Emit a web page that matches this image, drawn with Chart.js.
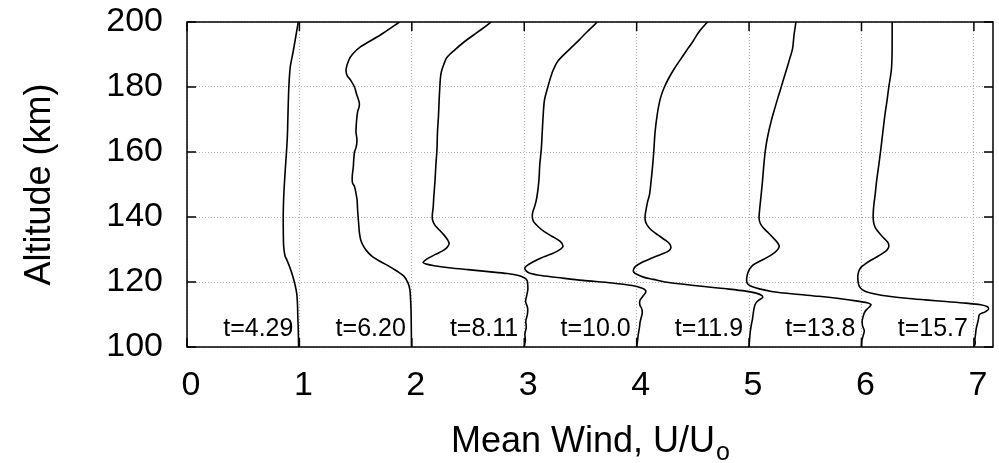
<!DOCTYPE html>
<html>
<head>
<meta charset="utf-8">
<script src="https://cdn.jsdelivr.net/npm/chart.js@4"></script>
<style>
  html, body { margin: 0; padding: 0; background: #fff; }
  #wrap { width: 999px; height: 463px; position: relative; }
</style>
</head>
<body>
<div id="wrap"><canvas id="wind-chart"></canvas></div>
<script>
// axis ticks
const windTicks = [0, 1, 2, 3, 4, 5, 6, 7];
const altTicks = [100, 120, 140, 160, 180, 200];

// profile labels, placed just left of each integer wind line
const timeLabels = ["t=4.29", "t=6.20", "t=8.11", "t=10.0", "t=11.9", "t=13.8", "t=15.7"];
const labelWind = [1, 2, 3, 4, 5, 6, 7];
const labelAlt = 103.4;

// t=4.29
const alt429 = [200, 195, 191, 186, 180, 175, 170, 165, 160, 155, 150, 145, 140, 135, 131, 128, 126.9, 124.5, 121.8, 119, 116.5, 113, 109, 105, 100];
const u429 = [0.99, 0.965, 0.945, 0.918, 0.906, 0.901, 0.897, 0.893, 0.885, 0.875, 0.866, 0.859, 0.856, 0.857, 0.860, 0.872, 0.887, 0.915, 0.941, 0.962, 0.976, 0.983, 0.986, 0.990, 0.993];

// t=6.20
const alt620 = [200, 196, 192.4, 190, 188.3, 185.5, 183.5, 182.2, 180, 178, 175.4, 174, 172.4, 169.5, 167.8, 166.2, 163.7, 161.5, 160, 157, 155.6, 152.5, 150.5, 149.4, 147, 145.3, 142, 140.2, 137.5, 135.1, 133, 131.2, 129.5, 127.9, 126.3, 124.9, 123.3, 121.8, 119.8, 117.7, 114, 109.6, 100];
const u620 = [1.89, 1.72, 1.545, 1.47, 1.44, 1.415, 1.425, 1.454, 1.49, 1.507, 1.531, 1.532, 1.518, 1.508, 1.505, 1.503, 1.512, 1.505, 1.49, 1.482, 1.480, 1.470, 1.472, 1.49, 1.505, 1.513, 1.518, 1.522, 1.528, 1.534, 1.545, 1.567, 1.60, 1.647, 1.72, 1.795, 1.87, 1.929, 1.965, 1.982, 1.99, 1.994, 1.997];

// t=8.11
const alt811 = [200, 198, 196, 194, 191.5, 189, 187, 185, 183, 180, 176, 171, 166, 161, 156, 151, 146, 143, 140.5, 139, 137.5, 136, 134.5, 133, 131.8, 130.5, 129.5, 128.5, 127.5, 126.6, 126, 125.5, 125, 124.4, 123.8, 123.2, 122.6, 122, 121.3, 120.5, 119.5, 117.7, 115.5, 114, 112, 110, 108, 106, 104, 102, 100];
const u811 = [2.705, 2.63, 2.55, 2.47, 2.385, 2.31, 2.285, 2.265, 2.255, 2.249, 2.243, 2.237, 2.228, 2.224, 2.214, 2.206, 2.195, 2.19, 2.182, 2.185, 2.205, 2.245, 2.285, 2.318, 2.332, 2.31, 2.27, 2.21, 2.155, 2.115, 2.10, 2.13, 2.20, 2.33, 2.50, 2.68, 2.85, 2.95, 3.0, 3.025, 3.03, 3.032, 3.02, 3.012, 3.03, 3.028, 3.014, 3.018, 3.006, 3.01, 3.0];

// t=10.0
const alt100 = [200, 197, 194.5, 191.5, 188, 185, 183.2, 180, 176, 171, 166, 161, 156, 151, 146, 143.5, 141.5, 140, 138.6, 137, 135.5, 134, 132.5, 131, 129.8, 128.6, 127.4, 126.3, 125.2, 124.4, 123.5, 122.7, 122, 121.2, 120.5, 119.7, 118.9, 118.1, 117.3, 116.5, 115.6, 114.4, 113, 111.8, 110.5, 109, 107.5, 106, 104, 102.5, 100];
const u100 = [3.65, 3.56, 3.49, 3.40, 3.30, 3.255, 3.237, 3.21, 3.18, 3.168, 3.16, 3.152, 3.138, 3.13, 3.112, 3.095, 3.076, 3.072, 3.083, 3.125, 3.178, 3.25, 3.32, 3.345, 3.31, 3.24, 3.15, 3.085, 3.03, 3.006, 3.015, 3.05, 3.15, 3.34, 3.52, 3.78, 3.96, 4.05, 4.082, 4.075, 4.055, 4.03, 4.028, 4.045, 4.05, 4.04, 4.03, 4.025, 4.015, 4.01, 4.0];

// t=11.9
const alt119 = [200, 197, 194, 191.8, 189, 185.7, 183, 180, 177.5, 175.2, 171.3, 166.2, 160, 155, 150.9, 147, 144.8, 142.5, 140.6, 139, 137.6, 136, 134.5, 133, 131.8, 130.6, 129.6, 128.6, 127.3, 126, 124.8, 123.8, 123, 122.3, 121.5, 120.8, 120, 119.3, 118.6, 117.9, 117.2, 116.5, 115.8, 115.2, 114.5, 113.5, 112, 110, 108.5, 107, 105, 103, 100];
const u119 = [4.63, 4.555, 4.50, 4.455, 4.40, 4.336, 4.29, 4.247, 4.22, 4.202, 4.182, 4.164, 4.152, 4.14, 4.128, 4.115, 4.098, 4.085, 4.076, 4.076, 4.092, 4.13, 4.188, 4.25, 4.292, 4.305, 4.285, 4.225, 4.13, 4.045, 3.99, 3.972, 3.975, 4.005, 4.06, 4.15, 4.25, 4.42, 4.60, 4.80, 4.97, 5.07, 5.115, 5.12, 5.09, 5.06, 5.045, 5.036, 5.03, 5.021, 5.012, 5.006, 5.0];

// t=13.8
const alt138 = [200, 196, 191.8, 188.5, 185.7, 182.8, 180, 176.5, 173.1, 169.5, 166, 163, 160, 155.5, 150.9, 147, 143.7, 141.5, 139.6, 138, 136.6, 135, 133.5, 132, 130.9, 129.6, 128.4, 127, 125.3, 124, 122.7, 121.4, 120.2, 119.3, 118.6, 117.8, 117.1, 116.3, 115.6, 114.9, 114.2, 113.6, 113, 112.3, 111.5, 110.5, 109, 107.9, 106.5, 105, 103.5, 102, 100];
const u138 = [5.417, 5.40, 5.387, 5.36, 5.336, 5.31, 5.286, 5.255, 5.226, 5.197, 5.173, 5.156, 5.143, 5.13, 5.119, 5.108, 5.098, 5.092, 5.089, 5.10, 5.128, 5.175, 5.217, 5.255, 5.268, 5.245, 5.202, 5.13, 5.039, 5.005, 4.988, 4.98, 4.979, 4.99, 5.024, 5.10, 5.20, 5.40, 5.62, 5.80, 5.95, 6.05, 6.085, 6.07, 6.045, 6.025, 6.012, 6.006, 6.01, 6.025, 6.015, 6.003, 6.0];

// t=15.7
const alt157 = [200, 195, 190, 185.7, 183, 180, 175.5, 171.3, 165.5, 160, 155.5, 150.9, 147, 143.7, 141.5, 139.6, 138, 136.6, 135, 133.5, 132.3, 131.4, 130.4, 129.4, 128, 126.3, 125.2, 124.3, 122.8, 121.2, 119.1, 118, 117.1, 116.3, 115.6, 115, 114.5, 114, 113.5, 113, 112.4, 111.6, 110.8, 110, 108.5, 107, 105.5, 104, 102.3, 101.2, 100];
const u157 = [6.273, 6.273, 6.272, 6.267, 6.257, 6.243, 6.226, 6.208, 6.188, 6.169, 6.152, 6.134, 6.122, 6.110, 6.105, 6.104, 6.11, 6.125, 6.16, 6.199, 6.232, 6.243, 6.238, 6.214, 6.15, 6.065, 6.02, 5.991, 5.972, 5.967, 5.976, 5.995, 6.036, 6.12, 6.243, 6.40, 6.57, 6.75, 6.926, 7.06, 7.12, 7.13, 7.10, 7.05, 7.04, 7.03, 7.02, 7.015, 7.009, 7.012, 7.0];

const profiles = [
    [alt429, u429], [alt620, u620], [alt811, u811], [alt100, u100],
    [alt119, u119], [alt138, u138], [alt157, u157]
];

const FONT = '"Liberation Sans", Arial, Helvetica, sans-serif';

// frame, inward ticks, profile labels and axis titles (gnuplot look)
const framePlugin = {
    id: "frame",
    afterDatasetsDraw(chart) {
        const { ctx, chartArea: a, scales: { x, y } } = chart;
        ctx.save();
        ctx.strokeStyle = "#000";
        ctx.lineWidth = 1.5;
        ctx.strokeRect(a.left, a.top, a.right - a.left, a.bottom - a.top);

        ctx.beginPath();
        windTicks.forEach(v => {
            const px = x.getPixelForValue(v);
            ctx.moveTo(px, a.bottom); ctx.lineTo(px, a.bottom - 9);
            ctx.moveTo(px, a.top); ctx.lineTo(px, a.top + 9);
        });
        altTicks.forEach(v => {
            const py = y.getPixelForValue(v);
            ctx.moveTo(a.left, py); ctx.lineTo(a.left + 9, py);
            ctx.moveTo(a.right, py); ctx.lineTo(a.right - 9, py);
        });
        ctx.stroke();

        ctx.fillStyle = "#000";
        ctx.font = "25px " + FONT;
        ctx.textAlign = "right";
        ctx.textBaseline = "alphabetic";
        timeLabels.forEach((t, i) => {
            ctx.fillText(t, x.getPixelForValue(labelWind[i]) - 6, y.getPixelForValue(labelAlt));
        });

        // x title with subscript
        const main = "Mean Wind, U/U";
        ctx.font = "36px " + FONT;
        const w1 = ctx.measureText(main).width;
        ctx.font = "25px " + FONT;
        const w2 = ctx.measureText("o").width;
        const cx = (a.left + a.right) / 2;
        const x0 = cx - (w1 + w2) / 2;
        ctx.textAlign = "left";
        ctx.font = "36px " + FONT;
        ctx.fillText(main, x0, 452);
        ctx.font = "25px " + FONT;
        ctx.fillText("o", x0 + w1 + 1, 460);

        // y title
        ctx.translate(49.5, (a.top + a.bottom) / 2);
        ctx.rotate(-Math.PI / 2);
        ctx.textAlign = "center";
        ctx.font = "36px " + FONT;
        ctx.fillText("Altitude (km)", 0, 0);
        ctx.restore();
    }
};

const ctx = document.getElementById("wind-chart").getContext("2d");
new Chart(ctx, {
    type: "scatter",
    data: {
        datasets: profiles.map(([alt, u], i) => ({
            label: timeLabels[i],
            data: alt.map((h, k) => ({ x: u[k], y: h })),
            showLine: true,
            borderColor: "#000",
            borderWidth: 1.6,
            pointRadius: 0,
            tension: 0.3,
            fill: false
        }))
    },
    options: {
        responsive: true,
        maintainAspectRatio: false,
        animation: false,
        layout: { padding: { top: 22, right: 6, left: 0, bottom: 0 } },
        plugins: { legend: { display: false }, tooltip: { enabled: false } },
        scales: {
            x: {
                type: "linear",
                min: 0,
                max: 7.17,
                afterBuildTicks: s => { s.ticks = windTicks.map(v => ({ value: v })); },
                afterFit: s => { s.height = 116; s.paddingLeft = 0; s.paddingRight = 0; },
                grid: { color: "#b0b0b0", lineWidth: 1, drawTicks: false },
                border: { display: false, dash: [1, 2] },
                ticks: {
                    color: "#000",
                    font: { family: FONT, size: 34 },
                    padding: 18,
                    labelOffset: 4,
                    maxRotation: 0
                }
            },
            y: {
                type: "linear",
                min: 100,
                max: 200,
                afterBuildTicks: s => { s.ticks = altTicks.map(v => ({ value: v })); },
                afterFit: s => { s.width = 187; s.paddingTop = 0; s.paddingBottom = 0; },
                grid: { color: "#b0b0b0", lineWidth: 1, drawTicks: false },
                border: { display: false, dash: [1, 2] },
                ticks: {
                    color: "#000",
                    font: { family: FONT, size: 34 },
                    padding: 24
                }
            }
        }
    },
    plugins: [framePlugin]
});
</script>
</body>
</html>
